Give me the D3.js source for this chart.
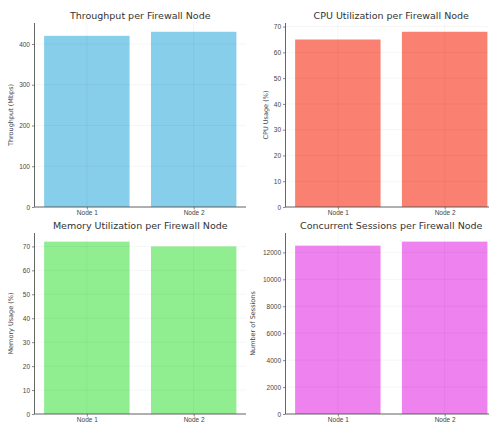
<!DOCTYPE html>
<html><head><meta charset="utf-8">
<script src="https://cdn.jsdelivr.net/npm/d3@7/dist/d3.min.js"></script>
<style>
html,body{margin:0;padding:0;background:#fff;overflow:hidden;}
svg{display:block;font-family:"DejaVu Sans",sans-serif;}
</style></head>
<body>
<svg id="chart" width="489" height="423"></svg>
<script>
const nodes = ["Node 1", "Node 2"];
const throughput = [420, 430];
const cpu = [65, 68];
const memory = [72, 70];
const sessions = [12500, 12800];

const titles = ["Throughput per Firewall Node", "CPU Utilization per Firewall Node",
                "Memory Utilization per Firewall Node", "Concurrent Sessions per Firewall Node"];
const yLabels = ["Throughput (Mbps)", "CPU Usage (%)", "Memory Usage (%)", "Number of Sessions"];
const yTicks = [[0,100,200,300,400],[0,10,20,30,40,50,60,70],[0,10,20,30,40,50,60,70],[0,2000,4000,6000,8000,10000,12000]];
const colors = ["#87CEEB", "#FA8072", "#90EE90", "#EE82EE"];
const series = [throughput, cpu, memory, sessions];

const panels = [
  {left:34.5, right:246, top:23, bottom:207, ylx:13},
  {left:285.5, right:497, top:23, bottom:207, ylx:268},
  {left:34.5, right:246, top:233, bottom:414, ylx:13},
  {left:285.5, right:497, top:233, bottom:414, ylx:255}
];

const svg = d3.select("#chart");

panels.forEach((p, i) => {
  const vals = series[i];
  const ymax = d3.max(vals) * 1.05;
  const y = d3.scaleLinear().domain([0, ymax]).range([p.bottom, p.top]);
  const x = d3.scaleLinear().domain([-0.49, 1.49]).range([p.left, p.right]);
  const g = svg.append("g");

  g.selectAll("rect.bar").data(vals).join("rect")
    .attr("x", (d, j) => x(j - 0.4))
    .attr("width", x(0.8) - x(0))
    .attr("y", d => y(d))
    .attr("height", d => y(0) - y(d))
    .attr("fill", colors[i]);

  g.selectAll("line.hg").data(yTicks[i]).join("line")
    .attr("x1", p.left).attr("x2", p.right)
    .attr("y1", d => y(d)).attr("y2", d => y(d))
    .attr("stroke", "#000").attr("stroke-opacity", 0.05).attr("stroke-width", 0.8);
  g.selectAll("line.vg").data(nodes).join("line")
    .attr("x1", (d, j) => x(j)).attr("x2", (d, j) => x(j))
    .attr("y1", p.top).attr("y2", p.bottom)
    .attr("stroke", "#000").attr("stroke-opacity", 0.05).attr("stroke-width", 0.8);

  const ya = g.append("g").attr("transform", `translate(${p.left},0)`)
    .call(d3.axisLeft(y).tickValues(yTicks[i]).tickSize(2.5).tickPadding(2).tickFormat(d3.format("d")));
  ya.select(".domain").attr("stroke", "#555").attr("stroke-width", 0.9).attr("d", `M0,${p.top}V${p.bottom}`);
  ya.selectAll(".tick line").attr("stroke", "#555").attr("stroke-width", 0.7);
  ya.selectAll(".tick text").attr("fill", "#444").attr("font-size", 6.5);

  const xa = g.append("g").attr("transform", `translate(0,${p.bottom})`)
    .call(d3.axisBottom(x).tickValues([0, 1]).tickSize(2.5).tickPadding(0.8).tickFormat(j => nodes[j]));
  xa.select(".domain").attr("stroke", "#555").attr("stroke-width", 0.9).attr("d", `M${p.left},0H${p.right}`);
  xa.selectAll(".tick line").attr("stroke", "#555").attr("stroke-width", 0.7);
  xa.selectAll(".tick text").attr("fill", "#444").attr("font-size", 6.5);

  g.append("text").attr("x", (p.left + p.right) / 2).attr("y", p.top - 4)
    .attr("text-anchor", "middle").attr("font-size", 9.5).attr("fill", "#333").text(titles[i]);

  g.append("text").attr("transform", `translate(${p.ylx},${(p.top + p.bottom) / 2}) rotate(-90)`)
    .attr("text-anchor", "middle").attr("font-size", 6.5).attr("fill", "#444").text(yLabels[i]);
});
</script>
</body></html>
